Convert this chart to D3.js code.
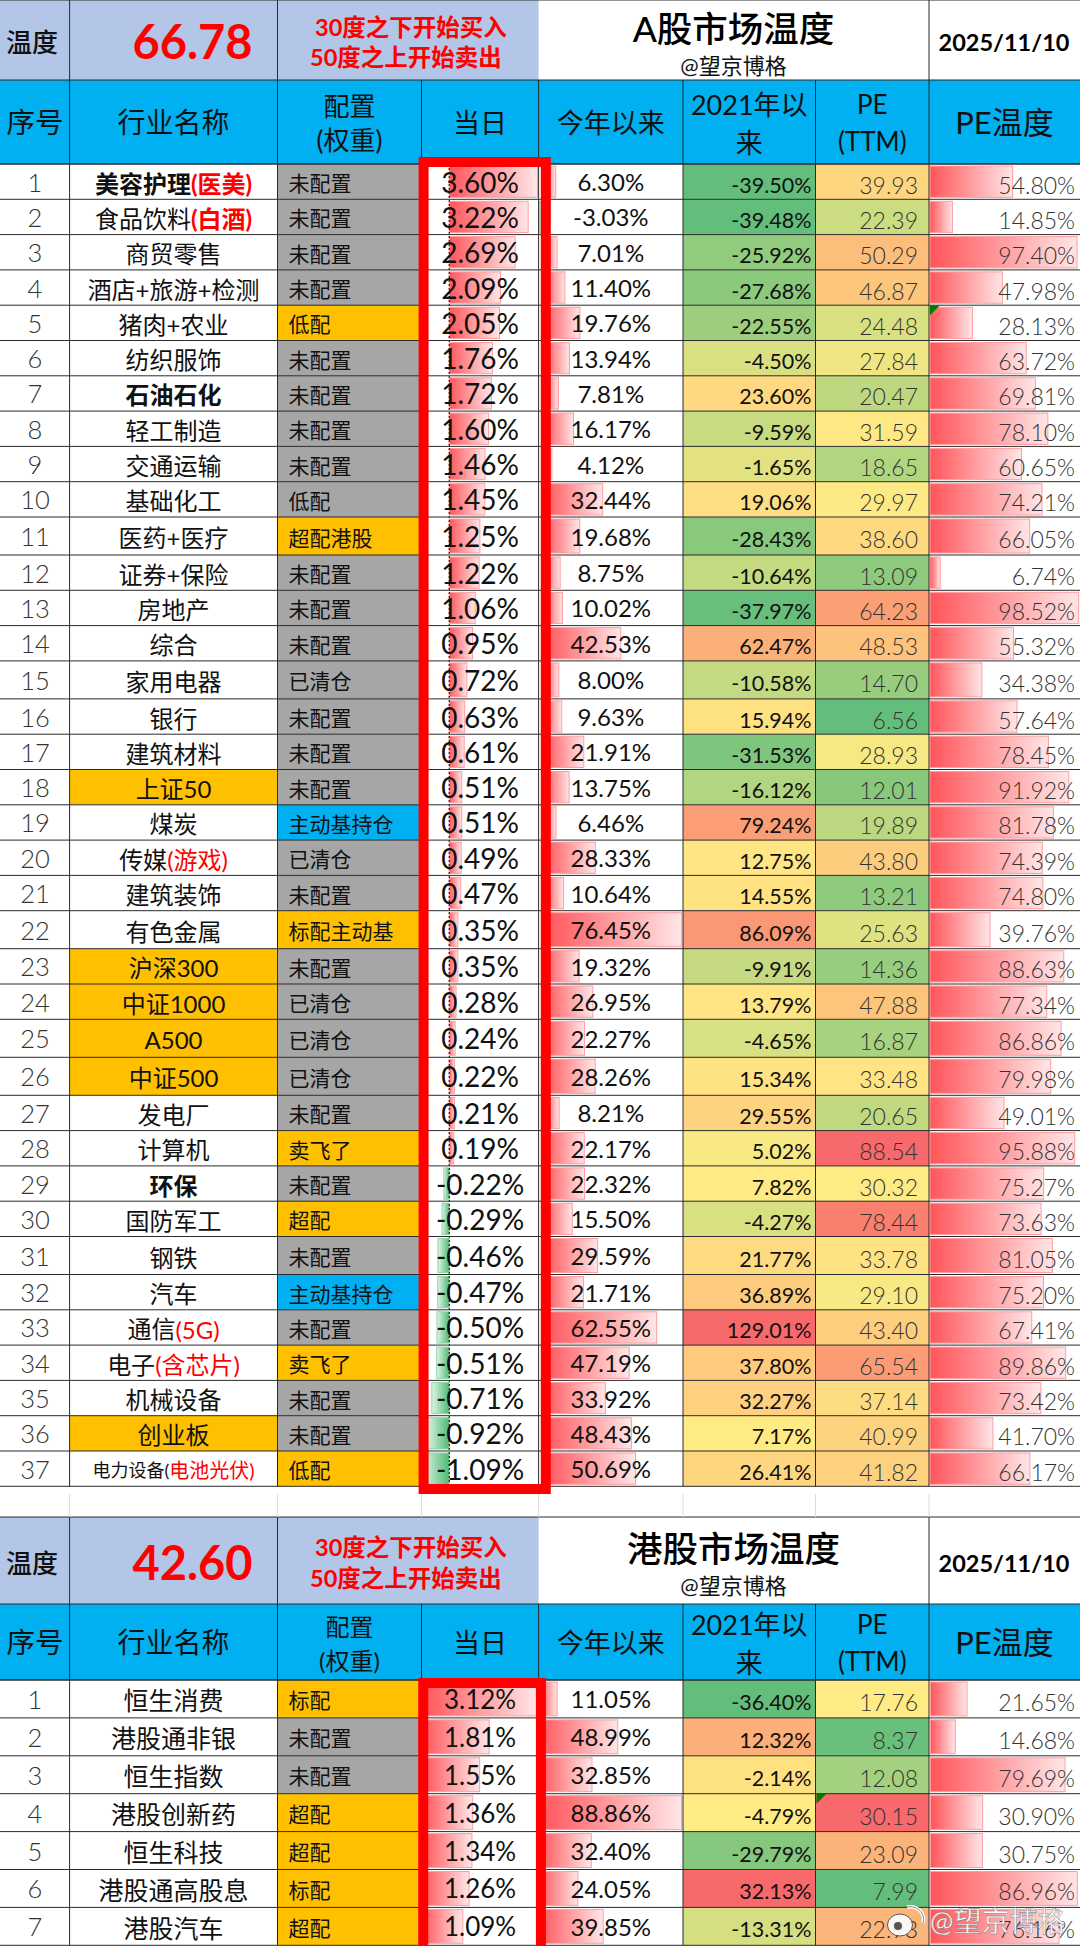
<!DOCTYPE html>
<html>
<head>
<meta charset="utf-8">
<title>A股市场温度</title>
<script src="https://cdn.jsdelivr.net/npm/d3@7/dist/d3.min.js"></script>
<style>
  html, body { margin: 0; padding: 0; background: #fff; }
  svg { display: block; }
  text { font-family: Lato, "Noto Sans CJK SC", sans-serif; }
</style>
</head>
<body>
<div class="chart"></div>
<script>
// A shares table
var aNames = ["美容护理", "食品饮料", "商贸零售", "酒店+旅游+检测", "猪肉+农业", "纺织服饰", "石油石化", "轻工制造", "交通运输", "基础化工", "医药+医疗", "证券+保险", "房地产", "综合", "家用电器", "银行", "建筑材料", "上证50", "煤炭", "传媒", "建筑装饰", "有色金属", "沪深300", "中证1000", "A500", "中证500", "发电厂", "计算机", "环保", "国防军工", "钢铁", "汽车", "通信", "电子", "机械设备", "创业板", "电力设备("];
var aNotes = ["(医美)", "(白酒)", "", "", "", "", "", "", "", "", "", "", "", "", "", "", "", "", "", "(游戏)", "", "", "", "", "", "", "", "", "", "", "", "", "(5G)", "(含芯片)", "", "", "电池光伏)"];
var aConfig = ["未配置", "未配置", "未配置", "未配置", "低配", "未配置", "未配置", "未配置", "未配置", "低配", "超配港股", "未配置", "未配置", "未配置", "已清仓", "未配置", "未配置", "未配置", "主动基持仓", "已清仓", "未配置", "标配主动基", "未配置", "已清仓", "已清仓", "已清仓", "未配置", "卖飞了", "未配置", "超配", "未配置", "主动基持仓", "未配置", "卖飞了", "未配置", "未配置", "低配"];
var aHeldRows = [5, 11, 22, 28, 30, 34, 37];
var aActiveRows = [19, 32];
var aDay = [3.60, 3.22, 2.69, 2.09, 2.05, 1.76, 1.72, 1.60, 1.46, 1.45, 1.25, 1.22, 1.06, 0.95, 0.72, 0.63, 0.61, 0.51, 0.51, 0.49, 0.47, 0.35, 0.35, 0.28, 0.24, 0.22, 0.21, 0.19, -0.22, -0.29, -0.46, -0.47, -0.50, -0.51, -0.71, -0.92, -1.09];
var aYtd = [6.30, -3.03, 7.01, 11.40, 19.76, 13.94, 7.81, 16.17, 4.12, 32.44, 19.68, 8.75, 10.02, 42.53, 8.00, 9.63, 21.91, 13.75, 6.46, 28.33, 10.64, 76.45, 19.32, 26.95, 22.27, 28.26, 8.21, 22.17, 22.32, 15.50, 29.59, 21.71, 62.55, 47.19, 33.92, 48.43, 50.69];
var aSince = [-39.50, -39.48, -25.92, -27.68, -22.55, -4.50, 23.60, -9.59, -1.65, 19.06, -28.43, -10.64, -37.97, 62.47, -10.58, 15.94, -31.53, -16.12, 79.24, 12.75, 14.55, 86.09, -9.91, 13.79, -4.65, 15.34, 29.55, 5.02, 7.82, -4.27, 21.77, 36.89, 129.01, 37.80, 32.27, 7.17, 26.41];
var aPe = [39.93, 22.39, 50.29, 46.87, 24.48, 27.84, 20.47, 31.59, 18.65, 29.97, 38.60, 13.09, 64.23, 48.53, 14.70, 6.56, 28.93, 12.01, 19.89, 43.80, 13.21, 25.63, 14.36, 47.88, 16.87, 33.48, 20.65, 88.54, 30.32, 78.44, 33.78, 29.10, 43.40, 65.54, 37.14, 40.99, 41.82];
var aPeTemp = [54.80, 14.85, 97.40, 47.98, 28.13, 63.72, 69.81, 78.10, 60.65, 74.21, 66.05, 6.74, 98.52, 55.32, 34.38, 57.64, 78.45, 91.92, 81.78, 74.39, 74.80, 39.76, 88.63, 77.34, 86.86, 79.98, 49.01, 95.88, 75.27, 73.63, 81.05, 75.20, 67.41, 89.86, 73.42, 41.70, 66.17];

// HK shares table
var hNames = ["恒生消费", "港股通非银", "恒生指数", "港股创新药", "恒生科技", "港股通高股息", "港股汽车"];
var hNotes = ["", "", "", "", "", "", ""];
var hConfig = ["标配", "未配置", "未配置", "超配", "超配", "标配", "超配"];
var hHeldRows = [1, 4, 5, 6, 7];
var hActiveRows = [];
var hDay = [3.12, 1.81, 1.55, 1.36, 1.34, 1.26, 1.09];
var hYtd = [11.05, 48.99, 32.85, 88.86, 32.40, 24.05, 39.85];
var hSince = [-36.40, 12.32, -2.14, -4.79, -29.79, 32.13, -13.31];
var hPe = [17.76, 8.37, 12.08, 30.15, 23.09, 7.99, 22.93];
var hPeTemp = [21.65, 14.68, 79.69, 30.90, 30.75, 86.96, 76.16];

var indexNames = ["上证50", "沪深300", "中证1000", "A500", "中证500", "创业板"];
var boldNames = ["美容护理", "石油石化", "环保"];

var svgWidth = 1080;
var svgHeight = 1946;

// column edges of the sheet
var col = { seq: 0, name: 69.6, config: 277.5, day: 421.5, ytd: 538.6, since: 683, pe: 815.5, temp: 929, end: 1080 };
var edges = [col.name, col.config, col.day, col.ytd, col.since, col.pe, col.temp];

var svg = d3
  .select(".chart")
  .append("svg")
  .attr("width", svgWidth)
  .attr("height", svgHeight);

// excel style data bar fills
var defs = svg.append("defs");
function addGradient(id, x1, x2, from, to) {
  var g = defs.append("linearGradient").attr("id", id).attr("x1", x1).attr("x2", x2).attr("y1", 0).attr("y2", 0);
  g.append("stop").attr("offset", "0%").attr("stop-color", from);
  g.append("stop").attr("offset", "100%").attr("stop-color", to);
}
addGradient("barRed", 0, 1, "#ff555a", "#ffe6e7");
addGradient("barGreen", 1, 0, "#4fba74", "#e0f4e7");

// row tops, some of the rows in the sheet are a bit taller
function rowScale(count, top, base, tall, tallRows) {
  var tops = [top];
  d3.range(1, count + 1).forEach(function(r) {
    tops.push(tops[r - 1] + (tallRows.includes(r) ? tall : base));
  });
  return tops;
}

function textAt(g, x, y, str, size, anchor, fill, weight) {
  return g.append("text")
    .attr("x", x)
    .attr("y", y)
    .attr("text-anchor", anchor || "middle")
    .attr("dominant-baseline", "central")
    .attr("font-size", size)
    .attr("font-weight", weight || 400)
    .attr("fill", fill || "#111")
    .text(str);
}

// median based 3 color scale, same as the excel rule
function heatScale(values) {
  return d3.scaleLinear()
    .domain([d3.min(values), d3.median(values), d3.max(values)])
    .range(["#63be7b", "#ffeb84", "#f8696b"]);
}

function drawMarket(m) {
  var g = svg.append("g");
  var n = m.names.length;
  var tops = rowScale(n, m.rowTop, m.rowBase, m.rowTall, m.tallRows);
  var bottom = tops[n];
  var rows = d3.range(n);
  var tCenter = (m.titleTop + m.headerTop) / 2;
  var hCenter = (m.headerTop + m.rowTop) / 2;

  // title band
  g.append("rect").attr("x", 0).attr("y", m.titleTop).attr("width", col.ytd).attr("height", m.headerTop - m.titleTop).attr("fill", "#b4c6e7");
  g.append("rect").attr("x", 0).attr("y", m.headerTop).attr("width", svgWidth).attr("height", m.rowTop - m.headerTop).attr("fill", "#00b0f0");

  textAt(g, 32, tCenter + 2, "温度", 26, "middle", "#111", 500);
  textAt(g, 192.5, tCenter + 1, m.temp, 47, "middle", "#ff0000", 700);
  textAt(g, 411, tCenter - 13.5, "30度之下开始买入", 23.5, "middle", "#ff0000", 700);
  textAt(g, 406, tCenter + 17, "50度之上开始卖出", 23.5, "middle", "#ff0000", 700);
  textAt(g, 733.5, tCenter - 12, m.title, 35.5, "middle", "#000", 500);
  textAt(g, 733.5, tCenter + 25, "@望京博格", 22, "middle", "#111", 400);
  textAt(g, 1004, tCenter + 2, "2025/11/10", 23.5, "middle", "#000", 700);

  // header band
  var mid = function(a, b) { return (a + b) / 2; };
  textAt(g, 35, hCenter, "序号", 28.5);
  textAt(g, mid(col.name, col.config), hCenter, "行业名称", 28);
  textAt(g, mid(col.config, col.day), hCenter - 16, "配置", m.cfgSize);
  textAt(g, mid(col.config, col.day), hCenter + 18, "(权重)", m.cfgSize);
  textAt(g, mid(col.day, col.ytd), hCenter, "当日", 27);
  textAt(g, mid(col.ytd, col.since), hCenter, "今年以来", 27);
  textAt(g, mid(col.since, col.pe), hCenter - 18, "2021年以", 27);
  textAt(g, mid(col.since, col.pe), hCenter + 20.5, "来", 27);
  textAt(g, mid(col.pe, col.temp), hCenter - 18, "PE", 26);
  textAt(g, mid(col.pe, col.temp), hCenter + 19, "(TTM)", 26);
  textAt(g, mid(col.temp, col.end), hCenter, "PE温度", 31);

  var sinceColor = heatScale(m.since);
  var peColor = heatScale(m.pe);
  var cfgColor = function(i) {
    if (m.heldRows.includes(i + 1)) return "#ffc000";
    if (m.activeRows.includes(i + 1)) return "#00b0f0";
    return "#a6a6a6";
  };

  // cell fills
  function fillCells(x0, x1, color) {
    g.append("g").selectAll("rect")
      .data(rows)
      .enter()
      .append("rect")
      .attr("x", x0)
      .attr("y", d => tops[d])
      .attr("width", x1 - x0)
      .attr("height", d => tops[d + 1] - tops[d])
      .attr("fill", color);
  }
  fillCells(col.name, col.config, d => indexNames.includes(m.names[d]) ? "#ffc000" : "#fff");
  fillCells(col.config, col.day, cfgColor);
  fillCells(col.since, col.pe, d => sinceColor(m.since[d]));
  fillCells(col.pe, col.temp, d => peColor(m.pe[d]));

  // data bars
  function bars(values, scale) {
    g.append("g").selectAll("rect")
      .data(rows)
      .enter()
      .append("rect")
      .attr("x", d => Math.min(scale(0), scale(values[d])))
      .attr("y", d => tops[d] + 2)
      .attr("width", d => Math.abs(scale(values[d]) - scale(0)))
      .attr("height", d => tops[d + 1] - tops[d] - 4)
      .attr("fill", d => values[d] < 0 ? "url(#barGreen)" : "url(#barRed)")
      .attr("stroke", d => values[d] < 0 ? "#8fd5a8" : "#ff9da1")
      .attr("stroke-width", 1);
  }
  var dayX = d3.scaleLinear().domain([Math.min(0, d3.min(m.day)), d3.max(m.day)]).range(m.dayRange);
  var ytdX = d3.scaleLinear().domain([Math.min(0, d3.min(m.ytd)), d3.max(m.ytd)]).range(m.ytdRange);
  var tempX = d3.scaleLinear().domain([0, d3.max(m.peTemp)]).range(m.tempRange);
  bars(m.day, dayX);
  bars(m.ytd, ytdX);
  bars(m.peTemp, tempX);

  // dotted axis of the day bars
  if (d3.min(m.day) < 0) {
    g.append("line")
      .attr("x1", dayX(0)).attr("x2", dayX(0))
      .attr("y1", tops[0]).attr("y2", bottom)
      .attr("stroke", "#000")
      .attr("stroke-dasharray", "2,2");
  }

  // grid
  var grid = g.append("g").attr("stroke", "#2b2b2b").attr("stroke-width", 1);
  tops.forEach(function(t) {
    grid.append("line").attr("x1", 0).attr("x2", svgWidth).attr("y1", t).attr("y2", t);
  });
  [m.titleTop, m.headerTop, m.rowTop].forEach(function(t) {
    grid.append("line").attr("x1", 0).attr("x2", svgWidth).attr("y1", t).attr("y2", t);
  });
  edges.forEach(function(x) {
    grid.append("line").attr("x1", x).attr("x2", x).attr("y1", m.headerTop).attr("y2", bottom);
  });
  [col.name, col.config, col.temp].forEach(function(x) {
    grid.append("line").attr("x1", x).attr("x2", x).attr("y1", m.titleTop).attr("y2", m.headerTop);
  });

  // cell texts
  rows.forEach(function(i) {
    var cy = (tops[i] + tops[i + 1]) / 2;
    textAt(g, 35, cy, i + 1, 25.5, "middle", "#333", 300);

    var small = m.names[i].endsWith("(");
    var bold = boldNames.includes(m.names[i]);
    var nameText = textAt(g, mid(col.name, col.config), cy + 1.5, m.names[i], small ? 18 : m.nameSize, "middle", "#111", bold ? 700 : 400);
    if (m.notes[i]) {
      nameText.append("tspan")
        .attr("fill", "#ff0000")
        .attr("font-size", small ? 20 : m.nameSize)
        .attr("font-weight", i < 2 ? 700 : 400)
        .text(m.notes[i]);
    }
    textAt(g, 288.5, cy + 1, m.config[i], 21, "start", "#111");
    textAt(g, mid(col.day, col.ytd), cy, m.day[i].toFixed(2) + "%", m.daySize, "middle", "#111", 400);
    textAt(g, mid(col.ytd, col.since), cy, m.ytd[i].toFixed(2) + "%", 24, "middle", "#111", 400);
    textAt(g, 811.5, cy + 3, m.since[i].toFixed(2) + "%", 21.5, "end", "#111", 400);
    textAt(g, 918, cy + 3, m.pe[i].toFixed(2), 23, "end", "#333", 300);
    textAt(g, 1075, cy + 3, m.peTemp[i].toFixed(2) + "%", 23, "end", "#333", 300);
  });

  // green error flags in the sheet
  m.flags.forEach(function(f) {
    var fx = col[f.col];
    var fy = tops[f.row - 1];
    g.append("path")
      .attr("d", d3.line()([[fx + 1, fy], [fx + 11, fy], [fx + 1, fy + 10]]))
      .attr("fill", "#007a00");
  });

  // red highlight around the day column
  g.append("rect")
    .attr("x", m.box[0])
    .attr("y", m.box[1])
    .attr("width", m.box[2])
    .attr("height", m.box[3])
    .attr("fill", "none")
    .attr("stroke", "#ff0000")
    .attr("stroke-width", 10);
}

drawMarket({
  title: "A股市场温度", temp: "66.78",
  names: aNames, notes: aNotes, config: aConfig, heldRows: aHeldRows, activeRows: aActiveRows,
  day: aDay, ytd: aYtd, since: aSince, pe: aPe, peTemp: aPeTemp,
  titleTop: 0, headerTop: 80, rowTop: 164,
  rowBase: 35.3, rowTall: 38, tallRows: [11, 15, 22, 25, 26, 31],
  dayRange: [422.5, 537.5], ytdRange: [539, 681.7], tempRange: [930, 1078.7],
  cfgSize: 26, nameSize: 24, daySize: 28,
  flags: [{ col: "temp", row: 5 }],
  box: [423.6, 162, 122.2, 1327]
});

drawMarket({
  title: "港股市场温度", temp: "42.60",
  names: hNames, notes: hNotes, config: hConfig, heldRows: hHeldRows, activeRows: hActiveRows,
  day: hDay, ytd: hYtd, since: hSince, pe: hPe, peTemp: hPeTemp,
  titleTop: 1517, headerTop: 1604, rowTop: 1680,
  rowBase: 37.9, rowTall: 37.9, tallRows: [],
  dayRange: [423, 537], ytdRange: [539.5, 681.5], tempRange: [930.5, 1077.3],
  cfgSize: 24, nameSize: 25, daySize: 26,
  flags: [{ col: "pe", row: 4 }],
  box: [423.2, 1683, 117.7, 300]
});

// light sheet lines in the empty gap between the two tables
edges.forEach(function(x) {
  svg.append("line")
    .attr("x1", x).attr("x2", x)
    .attr("y1", 1494).attr("y2", 1517)
    .attr("stroke", "#dcdcdc");
});

// weibo watermark
var mark = svg.append("g");
mark.append("ellipse").attr("cx", 900).attr("cy", 1925).attr("rx", 12.5).attr("ry", 11)
  .attr("fill", "#fff").attr("fill-opacity", 0.9).attr("stroke", "#555").attr("stroke-width", 1);
mark.append("circle").attr("cx", 898).attr("cy", 1926).attr("r", 4).attr("fill", "#555");
mark.append("path").attr("d", "M907,1907 C917,1905 926,1913 923,1923").attr("fill", "none").attr("stroke", "#fff").attr("stroke-width", 3.5);
mark.append("path").attr("d", "M907,1907 C917,1905 926,1913 923,1923").attr("fill", "none").attr("stroke", "#666").attr("stroke-width", 0.8);
textAt(mark, 930, 1921, "@望京博格", 28, "start", "#fff")
  .attr("stroke", "#666")
  .attr("stroke-width", 0.4);
</script>
</body>
</html>
